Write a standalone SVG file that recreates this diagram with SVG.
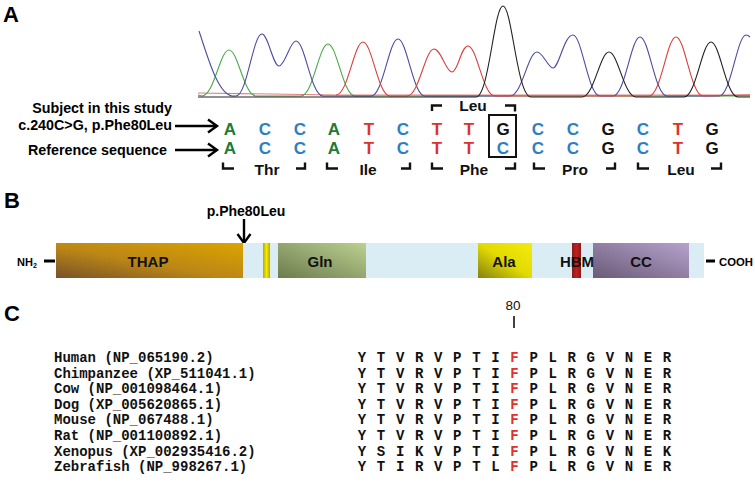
<svg xmlns="http://www.w3.org/2000/svg" width="755" height="485" viewBox="0 0 755 485">
<style>
.pl{font-family:"Liberation Sans",Arial,sans-serif;font-weight:bold;font-size:22px;fill:#000}
.lb{font-family:"Liberation Sans",Arial,sans-serif;font-weight:bold;font-size:14.3px;fill:#000}
.nt{font-family:"Liberation Sans",Arial,sans-serif;font-weight:bold;font-size:17px;text-anchor:middle}
.aa{font-family:"Liberation Sans",Arial,sans-serif;font-weight:bold;font-size:15.5px;text-anchor:middle;fill:#111}
.dm{font-family:"Liberation Sans",Arial,sans-serif;font-weight:bold;font-size:15px;text-anchor:middle;fill:#111}
.A{fill:#1e7b34}.C{fill:#2e7fc1}.T{fill:#e0312f}.G{fill:#111}
.br{fill:none;stroke:#111;stroke-width:2.4}
.tr{fill:none;stroke-width:1.1}
.mono{font-family:"Liberation Mono","Courier New",monospace;font-weight:bold;font-size:14px;fill:#111}
.aln{letter-spacing:1.13px}
.ar{stroke:#000;stroke-width:2.4;fill:none}
</style>
<defs>
<marker id="chev" markerUnits="userSpaceOnUse" markerWidth="14" markerHeight="16" refX="11" refY="8" orient="auto">
<path d="M2,1.5 L11,8 L2,14.5" fill="none" stroke="#000" stroke-width="2.4"/>
</marker>
<linearGradient id="gThap" x1="0" y1="1" x2="1" y2="0">
<stop offset="0" stop-color="#78522a"/><stop offset="0.45" stop-color="#bb8616"/><stop offset="1" stop-color="#dca400"/>
</linearGradient>
<linearGradient id="gGln" x1="0" y1="1" x2="1" y2="0">
<stop offset="0" stop-color="#6c7c4e"/><stop offset="1" stop-color="#bcd090"/>
</linearGradient>
<linearGradient id="gAla" x1="0" y1="1" x2="1" y2="0">
<stop offset="0" stop-color="#858014"/><stop offset="0.5" stop-color="#e2da00"/><stop offset="1" stop-color="#f4ea10"/>
</linearGradient>
<linearGradient id="gCC" x1="0" y1="1" x2="1" y2="0">
<stop offset="0" stop-color="#6a5b78"/><stop offset="1" stop-color="#b6a2cc"/>
</linearGradient>
<linearGradient id="gY" x1="0" y1="0" x2="1" y2="0">
<stop offset="0" stop-color="#b8a800"/><stop offset="0.5" stop-color="#f4ec00"/><stop offset="1" stop-color="#b8a800"/>
</linearGradient>
<linearGradient id="gR" x1="0" y1="0" x2="1" y2="0">
<stop offset="0" stop-color="#8a1818"/><stop offset="0.5" stop-color="#c02020"/><stop offset="1" stop-color="#8a1818"/>
</linearGradient>
</defs>
<rect width="755" height="485" fill="#fff"/>

<g id="panelA">
<text class="pl" x="3" y="22">A</text>
<g id="chromatogram">
<path class="tr" stroke="#e08080" d="M198,93 L336,95 L750,95"/>
<path class="tr" stroke="#4aa84a" d="M198,95 L202,96 C214,96 220,50 229,50 C238,50 244,96 256,96 L301,96 C313,96 319,44 328,44 C337,44 343,96 355,96 L750,96"/>
<path class="tr" stroke="#4c4ca0" d="M199,31 C208,58 218,94 232,96 L236,96 C247,96 253,34 262,34 C268,34 273,66 279,66 C285,66 290,41 296,41 C305,41 311,96 323,96 L371,96 C383,96 389,39 398,39 C407,39 413,96 425,96 L510,96 C522,96 528,52 537,52 C543,52 548,68 553,68 C559,68 564,35 573,35 C582,35 588,96 600,96 L613,96 C625,96 631,37 640,37 C649,37 655,96 667,96 L719,96 C731,96 737,35 746,35 C748,35 749,36 750,37"/>
<path class="tr" stroke="#d84040" d="M336,95 C348,95 354,42 363,42 C372,42 378,96 390,96 L407,96 C419,96 425,49 434,49 C441,49 446,72 452,72 C458,72 461,46 468,46 C477,46 483,96 495,96 L649,96 C661,96 667,37 676,37 C685,37 691,96 703,96 L750,95"/>
<path class="tr" stroke="#222" d="M198,97 L476,97 C489,97 494,6 503,6 C512,6 517,97 531,97 L582,97 C594,97 600,52 609,52 C618,52 624,97 636,97 L684,97 C696,97 702,42 711,42 C720,42 726,97 738,97 L750,97"/>
</g>
<g id="labelsA">
<text class="lb" x="172" y="113" text-anchor="end">Subject in this study</text>
<text class="lb" x="172" y="130" text-anchor="end">c.240C&gt;G, p.Phe80Leu</text>
<text class="lb" x="167" y="155" text-anchor="end">Reference sequence</text>
</g>
<g id="subjectRow">
<text class="nt A" x="230" y="135">A</text><text class="nt C" x="265" y="135">C</text><text class="nt C" x="300" y="135">C</text>
<text class="nt A" x="334" y="135">A</text><text class="nt T" x="369" y="135">T</text><text class="nt C" x="403" y="135">C</text>
<text class="nt T" x="437" y="135">T</text><text class="nt T" x="469" y="135">T</text><text class="nt G" x="503" y="135">G</text>
<text class="nt C" x="538" y="135">C</text><text class="nt C" x="573" y="135">C</text><text class="nt G" x="608" y="135">G</text>
<text class="nt C" x="643" y="135">C</text><text class="nt T" x="678" y="135">T</text><text class="nt G" x="712" y="135">G</text>
</g>
<g id="referenceRow">
<text class="nt A" x="230" y="154">A</text><text class="nt C" x="265" y="154">C</text><text class="nt C" x="300" y="154">C</text>
<text class="nt A" x="334" y="154">A</text><text class="nt T" x="369" y="154">T</text><text class="nt C" x="403" y="154">C</text>
<text class="nt T" x="437" y="154">T</text><text class="nt T" x="469" y="154">T</text><text class="nt C" x="503" y="154">C</text>
<text class="nt C" x="538" y="154">C</text><text class="nt C" x="573" y="154">C</text><text class="nt G" x="608" y="154">G</text>
<text class="nt C" x="643" y="154">C</text><text class="nt T" x="678" y="154">T</text><text class="nt G" x="712" y="154">G</text>
</g>
<rect id="mutBox" x="489" y="115" width="27" height="42" fill="none" stroke="#111" stroke-width="2"/>
<g id="codons">
<path class="br" d="M223,162.5 V168.5 H234 M296,168.5 H305 V162.5"/>
<path class="br" d="M327,162.5 V168.5 H338 M401,168.5 H410 V162.5"/>
<path class="br" d="M432,162.5 V168.5 H443 M505,168.5 H515 V162.5"/>
<path class="br" d="M534,162.5 V168.5 H545 M606,168.5 H615 V162.5"/>
<path class="br" d="M638,162.5 V168.5 H649 M711,168.5 H721 V162.5"/>
<path class="br" d="M432,111 V105.5 H442 M505,105.5 H515 V111.5"/>
<text class="aa" x="267" y="175">Thr</text>
<text class="aa" x="368" y="175">Ile</text>
<text class="aa" x="474" y="175">Phe</text>
<text class="aa" x="575" y="175">Pro</text>
<text class="aa" x="681" y="175">Leu</text>
<text class="aa" x="473" y="111">Leu</text>
</g>
</g>

<g id="connectors">
<line class="ar" x1="175" y1="126" x2="217" y2="126" marker-end="url(#chev)"/>
<line class="ar" x1="175" y1="150" x2="217" y2="150" marker-end="url(#chev)"/>
<line class="ar" x1="244" y1="219" x2="244" y2="243" marker-end="url(#chev)"/>
</g>

<g id="panelB">
<text class="pl" x="4" y="208">B</text>
<text class="lb" x="246" y="216" text-anchor="middle" style="font-size:14px">p.Phe80Leu</text>
<line x1="44" y1="261" x2="55" y2="261" stroke="#000" stroke-width="3"/>
<text class="lb" x="17" y="266" style="font-size:11px">NH<tspan font-size="7" dy="2">2</tspan></text>
<line x1="706" y1="261" x2="715" y2="261" stroke="#000" stroke-width="3"/>
<text class="lb" x="719" y="266" style="font-size:11.3px">COOH</text>
<g id="bar">
<rect x="56" y="243" width="648" height="35" fill="#dbedf4"/>
<g id="THAP"><rect x="56" y="243" width="187" height="35" fill="url(#gThap)"/><text class="dm" x="148" y="267">THAP</text></g>
<rect id="yellowBar" x="263" y="243" width="7" height="35" fill="url(#gY)"/>
<g id="Gln"><rect x="278" y="243" width="88" height="35" fill="url(#gGln)"/><text class="dm" x="320" y="267">Gln</text></g>
<g id="Ala"><rect x="478" y="243" width="54" height="35" fill="url(#gAla)"/><text class="dm" x="504" y="267">Ala</text></g>
<g id="HBM"><rect x="572" y="243" width="9" height="35" fill="url(#gR)"/></g>
<g id="CC"><rect x="593" y="243" width="96" height="35" fill="url(#gCC)"/><text class="dm" x="641" y="267">CC</text></g>
<text class="dm" x="577" y="267">HBM</text>
</g>
</g>

<g id="panelC">
<text class="pl" x="4" y="321">C</text>
<text x="513" y="310" text-anchor="middle" style="font-family:'Liberation Sans',Arial,sans-serif;font-size:13.5px;fill:#111">80</text>
<line x1="514" y1="316" x2="514" y2="328" stroke="#111" stroke-width="1.6"/>
<g id="names" class="mono">
<text x="54" y="362">Human (NP_065190.2)</text>
<text x="54" y="377.6">Chimpanzee (XP_511041.1)</text>
<text x="54" y="393.2">Cow (NP_001098464.1)</text>
<text x="54" y="408.8">Dog (XP_005620865.1)</text>
<text x="54" y="424.4">Mouse (NP_067488.1)</text>
<text x="54" y="440">Rat (NP_001100892.1)</text>
<text x="54" y="455.6">Xenopus (XP_002935416.2)</text>
<text x="54" y="471.2">Zebrafish (NP_998267.1)</text>
</g>
<g id="alignment" class="mono aln">
<text x="357.8" y="362">Y T V R V P T I <tspan fill="#e03030">F</tspan> P L R G V N E R</text>
<text x="357.8" y="377.6">Y T V R V P T I <tspan fill="#e03030">F</tspan> P L R G V N E R</text>
<text x="357.8" y="393.2">Y T V R V P T I <tspan fill="#e03030">F</tspan> P L R G V N E R</text>
<text x="357.8" y="408.8">Y T V R V P T I <tspan fill="#e03030">F</tspan> P L R G V N E R</text>
<text x="357.8" y="424.4">Y T V R V P T I <tspan fill="#e03030">F</tspan> P L R G V N E R</text>
<text x="357.8" y="440">Y T V R V P T I <tspan fill="#e03030">F</tspan> P L R G V N E R</text>
<text x="357.8" y="455.6">Y S I K V P T I <tspan fill="#e03030">F</tspan> P L R G V N E K</text>
<text x="357.8" y="471.2">Y T I R V P T L <tspan fill="#e03030">F</tspan> P L R G V N E R</text>
</g>
</g>
</svg>
